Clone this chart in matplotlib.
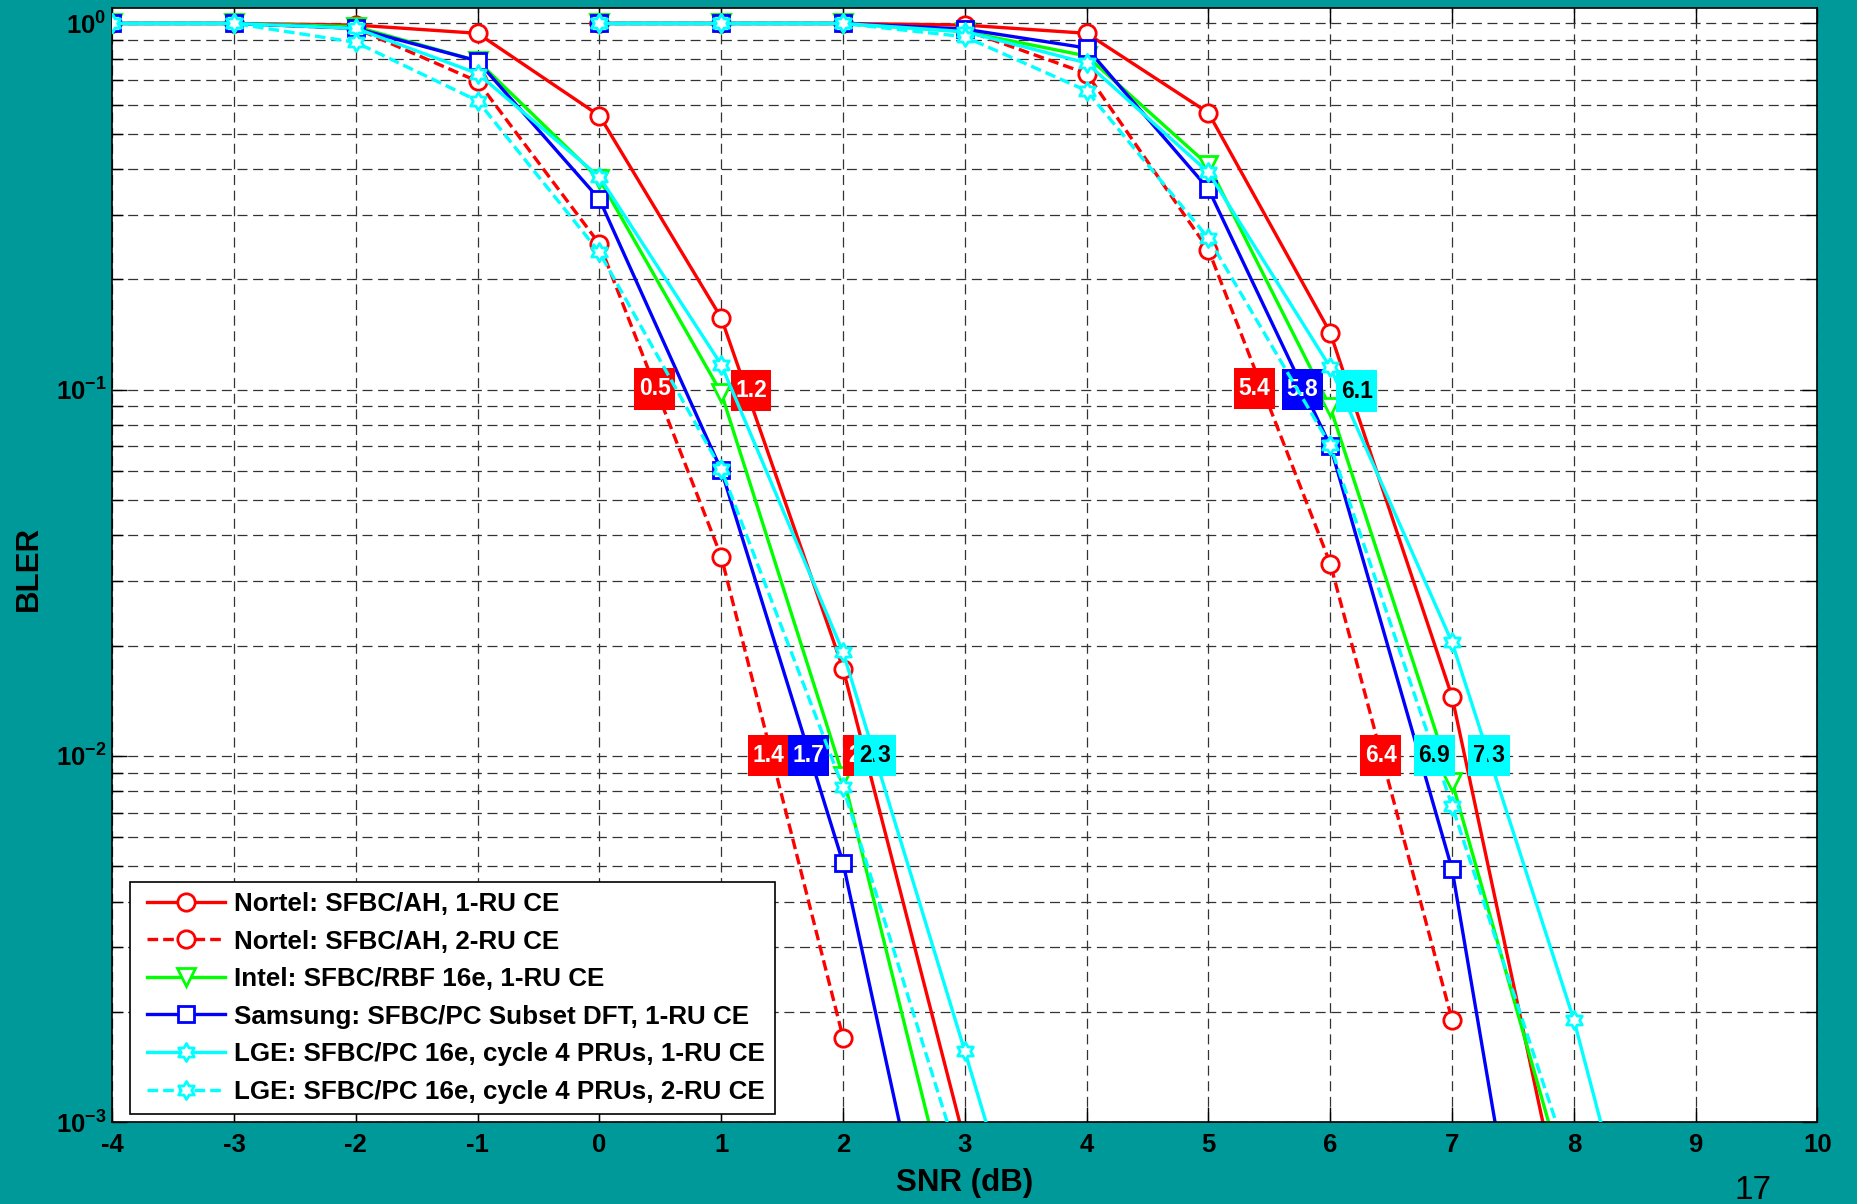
import numpy as np
import matplotlib
matplotlib.use('Agg')
import matplotlib.pyplot as plt
from matplotlib.path import Path
from matplotlib.lines import Line2D
from matplotlib.legend_handler import HandlerLine2D
from matplotlib.ticker import LogLocator, NullFormatter, FixedLocator

plt.rcParams['font.family'] = ['Liberation Sans', 'DejaVu Sans']
plt.rcParams['font.weight'] = 'bold'
plt.rcParams['mathtext.fontset'] = 'custom'
plt.rcParams['mathtext.rm'] = 'Liberation Sans:bold'
plt.rcParams['mathtext.bf'] = 'Liberation Sans:bold'
plt.rcParams['mathtext.it'] = 'Liberation Sans:bold'
plt.rcParams['axes.unicode_minus'] = False

nan = np.nan

# SNR points (dB) of the two curve families
snr_low = [-4, -3, -2, -1, 0, 1, 2, 3, 4]
snr_high = [0, 1, 2, 3, 4, 5, 6, 7, 8, 9]

# BLER per scheme, low family then high family
nortel_1ru_low = [1.0, 1.0, 0.99, 0.94, 0.56, 0.157, 0.0173, 8.8e-4, nan]
nortel_1ru_high = [1.0, 1.0, 1.0, 0.99, 0.94, 0.57, 0.143, 0.0145, 4.0e-4, nan]
nortel_2ru_low = [1.0, 1.0, 0.97, 0.695, 0.25, 0.035, 0.0017, nan, nan]
nortel_2ru_high = [1.0, 1.0, 1.0, 0.96, 0.73, 0.241, 0.0335, 0.0019, nan, nan]
intel_low = [1.0, 1.0, 0.98, 0.79, 0.376, 0.098, 0.0088, 4.0e-4, nan]
intel_high = [1.0, 1.0, 1.0, 0.95, 0.815, 0.41, 0.0895, 0.0085, 5.7e-4, nan]
samsung_low = [1.0, 1.0, 0.97, 0.79, 0.331, 0.0603, 0.0051, 1.5e-4, nan]
samsung_high = [1.0, 1.0, 1.0, 0.965, 0.857, 0.353, 0.0702, 0.0049, 5.4e-5, nan]
lge_1ru_low = [1.0, 1.0, 0.97, 0.73, 0.381, 0.117, 0.0192, 0.00156, 1.2e-4]
lge_1ru_high = [1.0, 1.0, 1.0, 0.95, 0.78, 0.392, 0.115, 0.0204, 0.0019, 1.03e-4]
lge_2ru_low = [1.0, 1.0, 0.888, 0.615, 0.237, 0.0606, 0.0082, 7.0e-4, nan]
lge_2ru_high = [1.0, 1.0, 1.0, 0.92, 0.655, 0.259, 0.0705, 0.0073, 7.1e-4, nan]

labels = ['Nortel: SFBC/AH, 1-RU CE',
          'Nortel: SFBC/AH, 2-RU CE',
          'Intel: SFBC/RBF 16e, 1-RU CE',
          'Samsung: SFBC/PC Subset DFT, 1-RU CE',
          'LGE: SFBC/PC 16e, cycle 4 PRUs, 1-RU CE',
          'LGE: SFBC/PC 16e, cycle 4 PRUs, 2-RU CE']

# SNR needed for BLER 10%/1% (value boxes)
req_snr = [0.5, 1.2, 1.4, 1.7, 2.2, 2.3, 5.4, 5.8, 6.1, 6.4, 6.9, 7.3]
req_bler = [0.1, 0.1, 0.01, 0.01, 0.01, 0.01, 0.1, 0.1, 0.1, 0.01, 0.01, 0.01]
req_scheme = ['nortel2', 'nortel1', 'nortel2', 'samsung', 'nortel1', 'lge1',
              'nortel2', 'samsung', 'lge1', 'nortel2', 'lge2', 'lge1']

TEAL = '#009999'
RED, GREEN, BLUE, CYAN = '#ff0000', '#00ff00', '#0000ff', '#00ffff'
DASH = (0, (3.2, 1.5))

# six-pointed star like MATLAB 'hexagram'
ang = np.deg2rad(90 + 30 * np.arange(12))
rad = np.where(np.arange(12) % 2 == 0, 1.0, 1 / np.sqrt(3))
hex_verts = np.column_stack([rad * np.cos(ang), rad * np.sin(ang)])
hexagram = Path(np.vstack([hex_verts, hex_verts[:1]]), closed=True)


def value_box(x0, y0, width, height, mutation_size):
    # flat box, wider margin top/bottom than left/right
    px, py = 0.2 * mutation_size, 0.4 * mutation_size
    x0, y0 = x0 - px, y0 - py
    x1, y1 = x0 + width + 2 * px, y0 + height + 2 * py
    return Path([(x0, y0), (x1, y0), (x1, y1), (x0, y1), (x0, y0)], closed=True)


styles = [
    (nortel_1ru_low, nortel_1ru_high, RED, '-', 'o', 12.5, 2),
    (nortel_2ru_low, nortel_2ru_high, RED, DASH, 'o', 12.5, 2),
    (intel_low, intel_high, GREEN, '-', 'v', 13, 2),
    (samsung_low, samsung_high, BLUE, '-', 's', 12, 2),
    (lge_1ru_low, lge_1ru_high, CYAN, '-', hexagram, 13, 3),
    (lge_2ru_low, lge_2ru_high, CYAN, DASH, hexagram, 13, 3),
]

fig = plt.figure(figsize=(18.58, 12.04), dpi=100, facecolor=TEAL)
ax = fig.add_axes([0.0604, 0.0681, 0.9178, 0.925])
ax.set_yscale('log')

handles = []
for low, high, col, ls, mk, ms, z in styles:
    kw = dict(color=col, linestyle=ls, lw=2.4, marker=mk, ms=ms, mew=2.0,
              mfc='white', mec=col, zorder=z)
    h, = ax.plot(snr_low, low, **kw)
    ax.plot(snr_high, high, **kw)
    handles.append(h)

box_colors = {'nortel1': (RED, 'white'), 'nortel2': (RED, 'white'),
              'samsung': (BLUE, 'white'), 'lge1': (CYAN, 'black'),
              'lge2': (CYAN, 'black')}
# small nudges (points) so neighbouring boxes sit side by side
nudge = [(-3.9, 0.5), (3.9, -0.5), (-0.9, 0), (1.4, 0), (-2.6, 0), (-3.3, 0),
         (-1.9, 1), (-2.4, 0), (10.4, -1.0), (1.4, 0), (-3.9, 0), (0.3, 0)]
for s, b, key, (dx, dy) in zip(req_snr, req_bler, req_scheme, nudge):
    bg, fg = box_colors[key]
    ax.annotate(f'{s:.1f}', (s, b), xytext=(dx, dy), textcoords='offset points',
                ha='center', va='center', fontsize=16.5, color=fg,
                fontweight='bold', zorder=2.5,
                bbox=dict(boxstyle=value_box, fc=bg, ec='none'))

ax.set_xlim(-4, 10)
ax.set_ylim(1e-3, 1.1)
ax.set_xticks(range(-4, 11))
ax.yaxis.set_major_locator(FixedLocator([1e-3, 1e-2, 1e-1, 1]))
ax.set_yticklabels([r'$10^{-3}$', r'$10^{-2}$', r'$10^{-1}$', r'$10^{0}$'])
ax.yaxis.set_minor_locator(LogLocator(base=10, subs=np.arange(2, 10)))
ax.yaxis.set_minor_formatter(NullFormatter())

ax.set_axisbelow(True)
grid_kw = dict(linestyle=(0, (8, 4.5)), lw=0.9, color='#333333')
ax.grid(True, which='major', **grid_kw)
ax.grid(True, which='minor', axis='y', **grid_kw)

ax.tick_params(which='both', direction='in', top=True, right=True, width=1)
ax.tick_params(which='major', length=11)
ax.tick_params(which='minor', length=8)
ax.tick_params(axis='x', pad=8, labelsize=18.5)
ax.tick_params(axis='y', pad=4, labelsize=18.5)
for sp in ax.spines.values():
    sp.set_linewidth(1.2)

ax.set_xlabel('SNR (dB)', fontsize=22.5, fontweight='bold')
ax.xaxis.set_label_coords(0.5, -0.041)
ax.set_ylabel('BLER', fontsize=22.5, fontweight='bold')
ax.yaxis.set_label_coords(-0.040, 0.497)

leg = ax.legend(handles, labels, loc='lower left',
                bbox_to_anchor=(0.0104, 0.0072), borderaxespad=0,
                fontsize=18.7, handlelength=3.25, handletextpad=0.35,
                labelspacing=0.52, borderpad=0.4, fancybox=False,
                edgecolor='black', framealpha=1,
                handler_map={Line2D: HandlerLine2D(xpad=0.25)})
leg.get_frame().set_linewidth(1.2)

fig.text(0.9435, 0.0237, '17', fontsize=24, fontweight='normal',
         ha='center', va='top', color='black')

fig.savefig('out.png', dpi=100, facecolor=fig.get_facecolor())
